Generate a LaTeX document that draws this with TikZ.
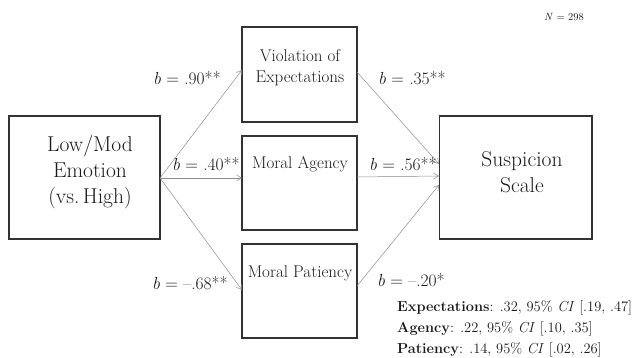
\documentclass[tikz,border=0pt]{standalone}
\usepackage{fontspec}
\usetikzlibrary{arrows.meta}
\definecolor{boxline}{HTML}{333333}
\definecolor{arrowgray}{HTML}{8C8C8C}
\definecolor{txt}{HTML}{1A1A1A}
\tikzset{
  box/.style={draw=boxline, line width=1.1pt, fill=none},
  conn/.style={draw=arrowgray, line width=0.5pt, -{Straight Barb[length=5pt,width=6pt,line width=0.5pt]}},
  lbl/.style={text=txt, font=\fontsize{17.5}{20}\selectfont, inner sep=0pt},
  big/.style={text=txt, font=\fontsize{21.5}{26}\selectfont, inner sep=0pt, align=center},
  mid/.style={text=txt, font=\fontsize{17}{21}\selectfont, inner sep=0pt, align=center},
  stat/.style={text=txt, font=\fontsize{14.5}{21}\selectfont, inner sep=0pt, align=left},
}
\begin{document}
\begin{tikzpicture}[x=1pt, y=-1pt]
\useasboundingbox (0,0) rectangle (633,358);
% boxes
\draw[box] (9,116) rectangle (160,239);
\draw[box] (242,27) rectangle (357,122);
\draw[box] (242,136) rectangle (357,230);
\draw[box] (242,244) rectangle (357,338);
\draw[box] (439.5,116) rectangle (592,239);
% connector anchor points
\coordinate (src) at (160,178);
\coordinate (vin) at (242,70);
\coordinate (ain) at (242,178);
\coordinate (pin) at (242,290);
\coordinate (vout) at (357,72);
\coordinate (aout) at (357,177);
\coordinate (pout) at (357,286);
\coordinate (sv) at (439,164);
\coordinate (sa) at (439,176);
\coordinate (sp) at (439,185);
\draw[conn] (src) -- (vin);
\draw[conn] (src) -- (ain);
\draw[conn] (src) -- (pin);
\draw[conn] (vout) -- (sv);
\draw[conn] (aout) -- (sa);
\draw[conn] (pout) -- (sp);
% box texts
\node[big] (lowmod) at (90,172) {Low/Mod\\Emotion\\(vs.\,High)};
\node[big] (susp) at (522,172.5) {Suspicion\\Scale};
\node[mid] (viol) at (300,67.5) {Violation of\\Expectations};
\node[mid] (agency) at (300,164) {Moral Agency};
\node[mid] (pat) at (300,273) {Moral Patiency};
% path labels
\node[lbl] (l1) at (187,78) {\textit{b} = .90**};
\node[lbl] (l2) at (206,164) {\textit{b} = .40**};
\node[lbl] (l3) at (190,283) {\textit{b} = –.68**};
\node[lbl] (l4) at (412,78) {\textit{b} = .35**};
\node[lbl] (l5) at (403,164) {\textit{b} = .56**};
\node[lbl] (l6) at (411,280) {\textit{b} = –.20*};
% N
\node[text=txt, font=\fontsize{10.5}{12}\selectfont, inner sep=0pt] (n) at (564,17) {\textit{N} = 298};
% stats
\node[stat, anchor=west] (s1) at (397,308) {\textbf{Expectations}: .32, 95\% \textit{CI} [.19, .47]};
\node[stat, anchor=west] (s2) at (397,329) {\textbf{Agency}: .22, 95\% \textit{CI} [.10, .35]};
\node[stat, anchor=west] (s3) at (397,350) {\textbf{Patiency}: .14, 95\% \textit{CI} [.02, .26]};
\end{tikzpicture}
\end{document}
